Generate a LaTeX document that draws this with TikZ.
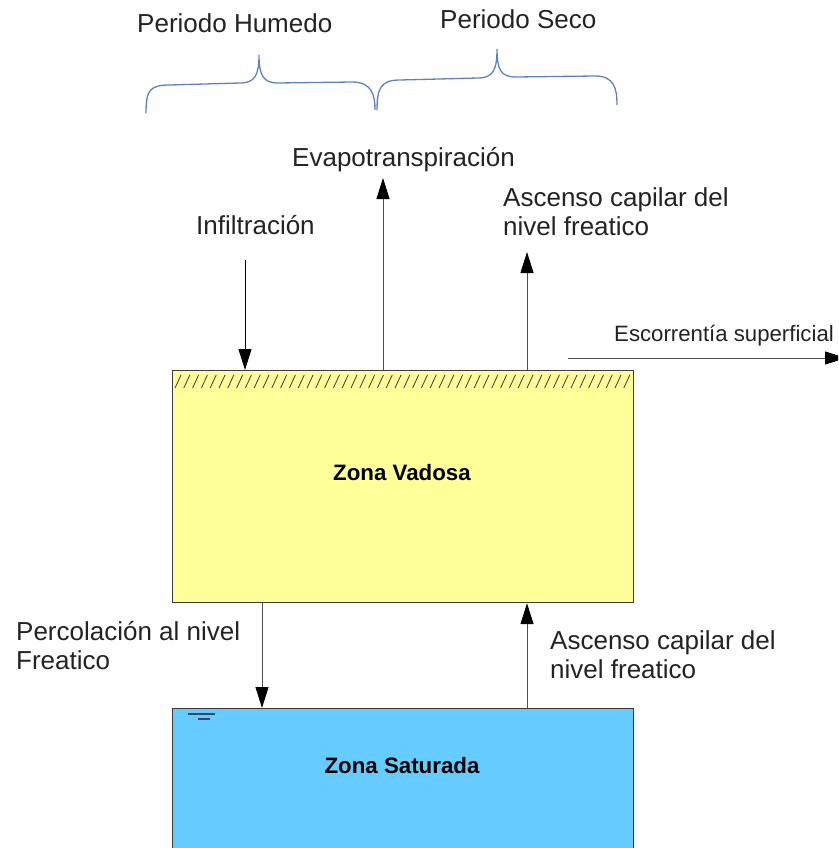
\documentclass[tikz,border=0pt]{standalone}
\usepackage{fontspec}
\setmainfont{Liberation Sans}
\usetikzlibrary{arrows.meta}
\definecolor{txt}{RGB}{35,35,35}
\definecolor{yel}{RGB}{255,255,153}
\definecolor{blu}{RGB}{102,204,255}
\definecolor{brd}{RGB}{60,60,60}
\definecolor{bracecol}{RGB}{95,130,190}
\definecolor{lnk}{RGB}{80,80,80}
\definecolor{wt}{RGB}{50,75,100}
\begin{document}
\begin{tikzpicture}[x=1pt,y=-1pt,
 lbl/.style={anchor=base west, inner sep=0pt, text=txt, font=\fontsize{26}{29}\selectfont, align=left},
 smalllbl/.style={lbl, font=\fontsize{22.2}{25}\selectfont},
 zone/.style={draw=brd, line width=1.2pt, inner sep=0pt},
 zlbl/.style={anchor=base, inner sep=0pt, font=\fontsize{22.3}{26}\selectfont\bfseries, text=black},
 arr/.style={draw=lnk, line width=1pt, -{Triangle[length=21pt,width=13pt,color=black]}},
 brc/.style={draw=bracecol, line width=1.3pt}]
\useasboundingbox (0,0) rectangle (838,848);
\clip (0,0) rectangle (838,848);

% braces
\draw[brc] (146,113) .. controls (146,90) and (150,85) .. (170,85) -- (240,83)
  .. controls (255,83) and (259,75) .. (259,55)
  .. controls (259,75) and (263,83) .. (278,83) -- (352,82)
  .. controls (372,82) and (375,95) .. (375,110);
\draw[brc] (377,110) .. controls (377,88) and (381,80) .. (400,80) -- (478,78)
  .. controls (493,78) and (497,70) .. (497,49)
  .. controls (497,70) and (501,77) .. (516,77) -- (595,76)
  .. controls (614,76) and (617,88) .. (617,105);
\node[lbl] (hum) at (137,33) {Periodo Humedo};
\node[lbl] (seco) at (440,29) {Periodo Seco};

% zones
\node[zone, fill=yel, minimum width=461pt, minimum height=232pt, anchor=north west] (vadosa) at (172,370) {};
\node[zone, fill=blu, minimum width=461pt, minimum height=160pt, anchor=north west] (saturada) at (172,708) {};
\node[zlbl] (vlbl) at (402,480) {Zona Vadosa};
\node[zlbl] (slbl) at (402,773) {Zona Saturada};

% hatching
\foreach \i in {0,...,51} {
  \draw[brd, line width=0.8pt] ({175+\i*8.8},388) -- ({181+\i*8.8},375);
}
% water table symbol
\draw[wt, line width=1.1pt] (188,714) -- (215,714);
\draw[wt, line width=1.1pt] (198,719) -- (210,719);

% labels (base anchor = baseline of last line)
\node[lbl] (evap) at (292,166) {Evapotranspiración};
\node[lbl] (asc1) at (503,235) {Ascenso capilar del\\nivel freatico};
\node[lbl] (infil) at (196,234) {Infiltración};
\node[smalllbl] (esc) at (614,341) {Escorrentía superficial};
\node[lbl] (perc) at (16,669) {Percolación al nivel\\Freatico};
\node[lbl] (asc2) at (550,678) {Ascenso capilar del\\nivel freatico};

% connectors
\coordinate (infstart) at (245,260);
\coordinate (evtip) at (383,178);
\coordinate (asctip) at (527,252);
\coordinate (escstart) at (568,358);
\coordinate (escend) at (846,358);
\draw[arr, draw=black] (infstart) -- (infstart |- vadosa.north);
\draw[arr] (vadosa.north -| evtip) -- (evtip);
\draw[arr] (vadosa.north -| asctip) -- (asctip);
\draw[arr] (escstart) -- (escend);
\draw[arr] (vadosa.south -| 262,0) -- (saturada.north -| 262,0);
\draw[arr] (saturada.north -| 527,0) -- (vadosa.south -| 527,0);
\end{tikzpicture}
\end{document}
